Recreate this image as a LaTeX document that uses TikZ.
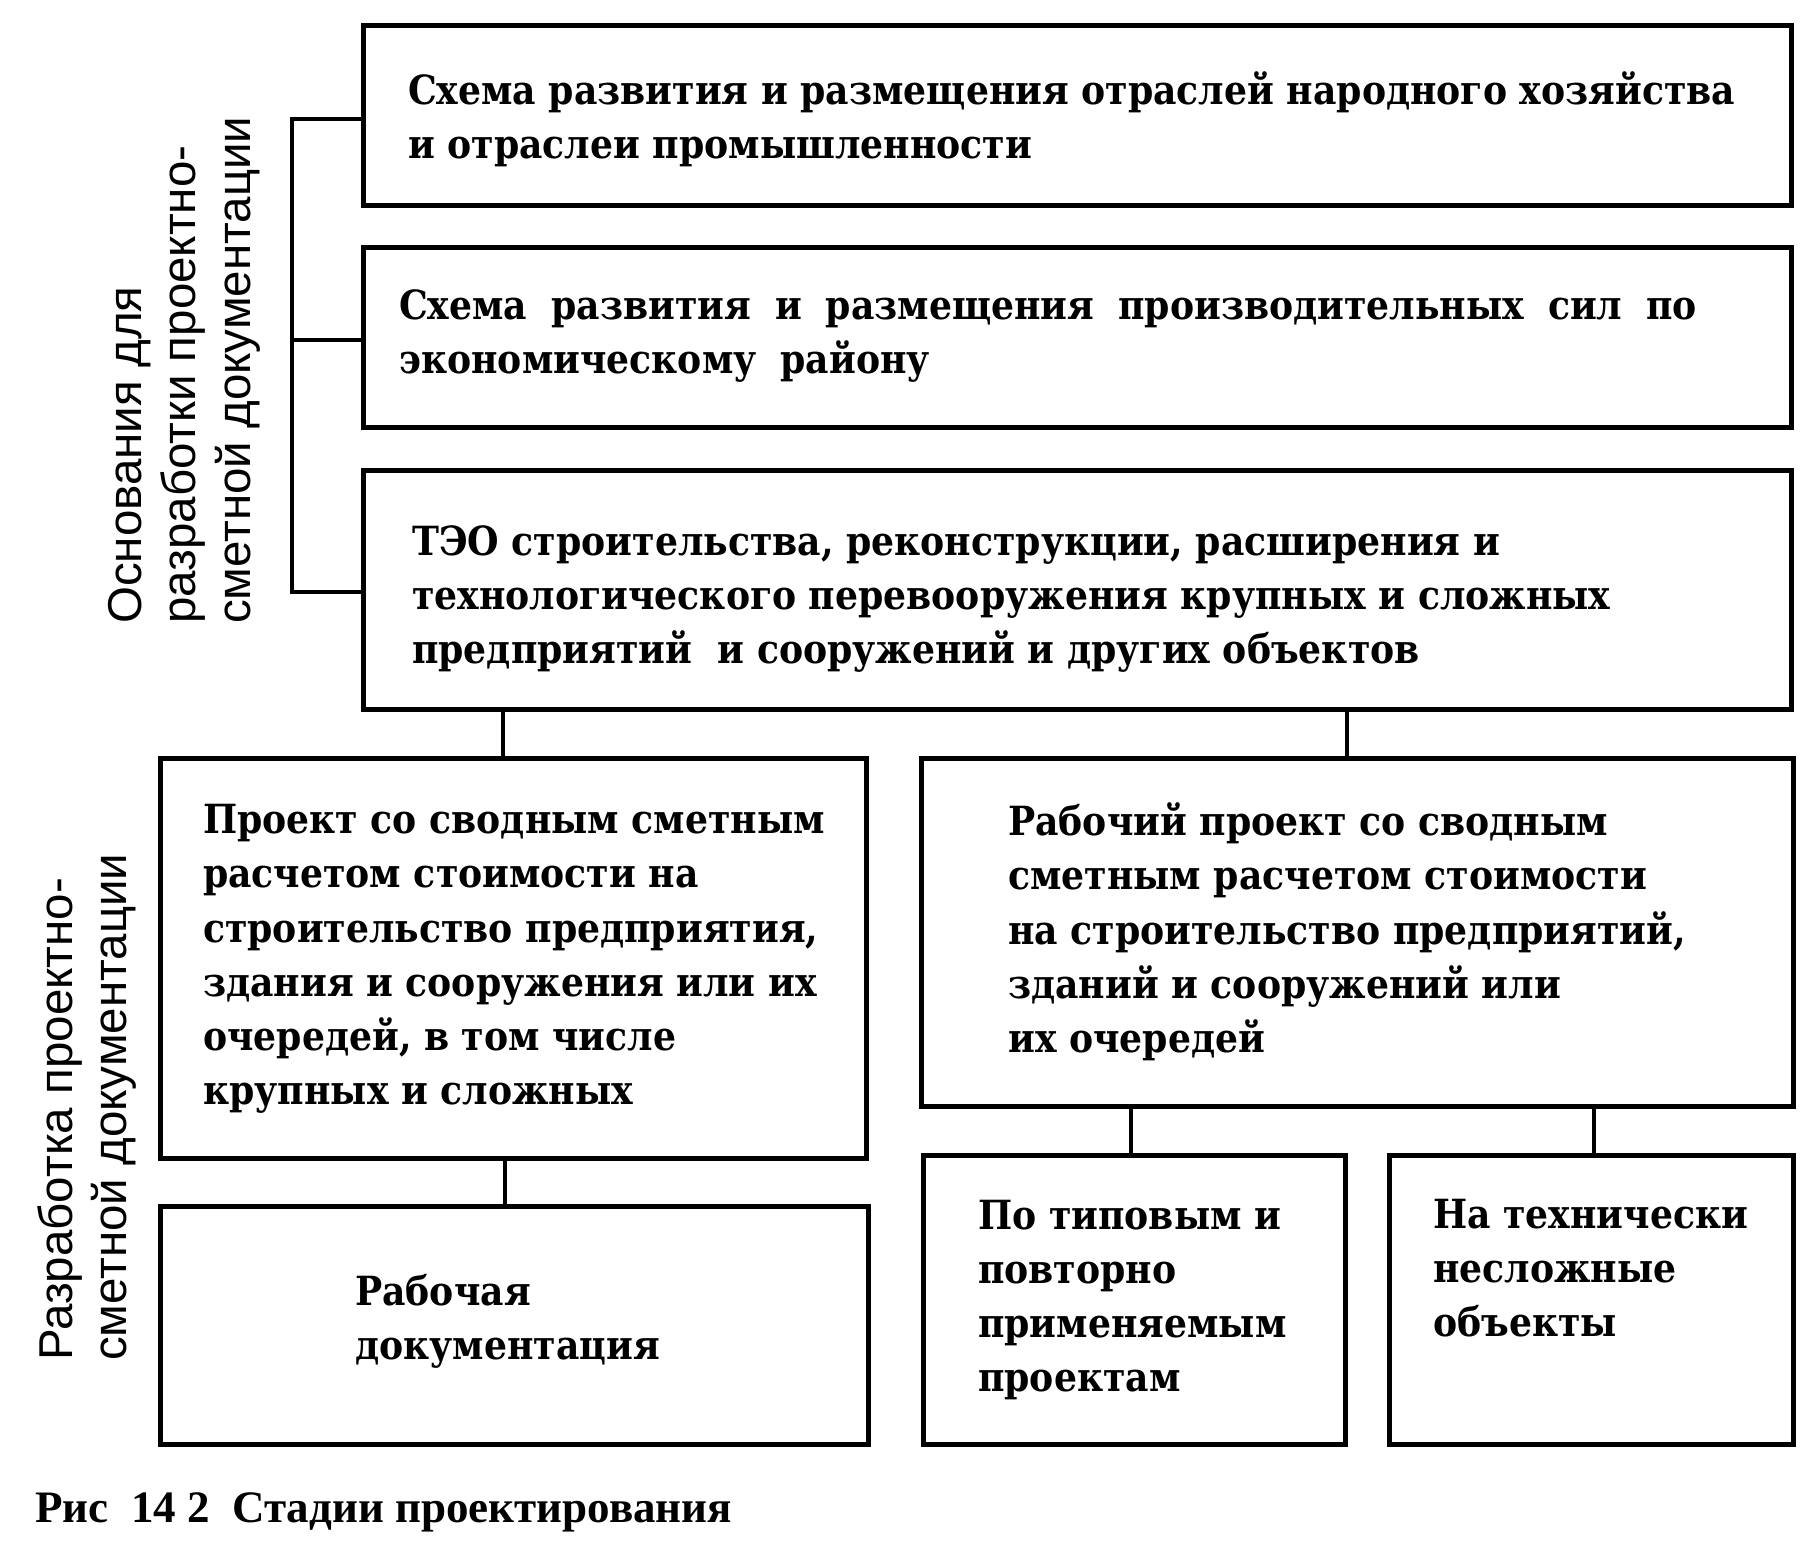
\documentclass[tikz,border=0pt]{standalone}
\usepackage{fontspec}
\setmainfont{DejaVu Serif}
\newfontfamily\boxfont{DejaVu Serif Condensed}
\newfontfamily\labelfont{Liberation Sans}
\newfontfamily\capfont{Liberation Serif}
\newcommand\wsp{\hspace{24pt}}
\begin{document}
\begin{tikzpicture}[x=1pt,y=-1pt,
  box/.style={draw, line width=4.5pt, inner sep=0, anchor=north west},
  txt/.style={font=\boxfont\bfseries\fontsize{40.2}{54.3}\selectfont, align=left, anchor=west, inner sep=0},
  conn/.style={line width=4.5pt},
  side/.style={font=\labelfont\fontsize{47.5}{54.5}\selectfont, align=left, rotate=90, inner sep=0, anchor=north west},
  captxt/.style={font=\capfont\bfseries\fontsize{45}{50}\selectfont, anchor=west, inner sep=0}]
\useasboundingbox (0,0) rectangle (1812,1558);
% boxes
\node[box, minimum width=1428, minimum height=180] (b1) at (361,23) {};
\node[box, minimum width=1428, minimum height=180] (b2) at (361,245) {};
\node[box, minimum width=1428, minimum height=239] (b3) at (361,468) {};
\node[box, minimum width=706, minimum height=400] (b4) at (158,756) {};
\node[box, minimum width=872, minimum height=348] (b5) at (919,756) {};
\node[box, minimum width=708, minimum height=238] (b6) at (158,1204) {};
\node[box, minimum width=422, minimum height=289] (b7) at (921,1153) {};
\node[box, minimum width=404, minimum height=289] (b8) at (1387,1153) {};
% texts
\node[txt] (t1) at (408,119) {Схема развития и размещения отраслей народного хозяйства\\и отраслеи промышленности};
\node[txt] (t2) at (399,336) {Схема\wsp развития\wsp и\wsp размещения\wsp производительных\wsp сил\wsp по\\экономическому\wsp району};
\node[txt] (t3) at (412,599) {ТЭО строительства, реконструкции, расширения и\\технологического перевооружения крупных и сложных\\предприятий\ \ и сооружений и других объектов};
\node[txt] (t4) at (203,959) {Проект со сводным сметным\\расчетом стоимости на\\строительство предприятия,\\здания и сооружения или их\\очередей, в том числе\\крупных и сложных};
\node[txt] (t5) at (1008,932) {Рабочий проект со сводным\\сметным расчетом стоимости\\на строительство предприятий,\\зданий и сооружений или\\их очередей};
\node[txt] (t6) at (355,1321) {Рабочая\\документация};
\node[txt] (t7) at (978,1300) {По типовым и\\повторно\\применяемым\\проектам};
\node[txt] (t8) at (1433,1268) {На технически\\несложные\\объекты};
% side labels
\node[side] (s1) at (108,624) {Основания для\\разработки проектно-\\сметной документации};
\node[side] (s2) at (37,1361) {Разработка проектно-\\сметной документации};
% caption
\node[captxt] (cap) at (35,1512) {Рис\ \ 14 2\ \ Стадии проектирования};
% bracket
\coordinate (br) at (292,0);
\coordinate (y1) at (0,119);
\coordinate (y2) at (0,340);
\coordinate (y3) at (0,592);
\draw[conn] (b1.west |- y1) -- (br |- y1) -- (br |- y3) -- (b3.west |- y3);
\draw[conn] (br |- y2) -- (b2.west |- y2);
% connectors
\coordinate (k1) at (503,0);
\coordinate (k2) at (1347,0);
\coordinate (k3) at (505,0);
\coordinate (k4) at (1131,0);
\coordinate (k5) at (1594,0);
\draw[conn] (k1 |- b3.south) -- (k1 |- b4.north);
\draw[conn] (k2 |- b3.south) -- (k2 |- b5.north);
\draw[conn] (k3 |- b4.south) -- (k3 |- b6.north);
\draw[conn] (k4 |- b5.south) -- (k4 |- b7.north);
\draw[conn] (k5 |- b5.south) -- (k5 |- b8.north);
\end{tikzpicture}
\end{document}
